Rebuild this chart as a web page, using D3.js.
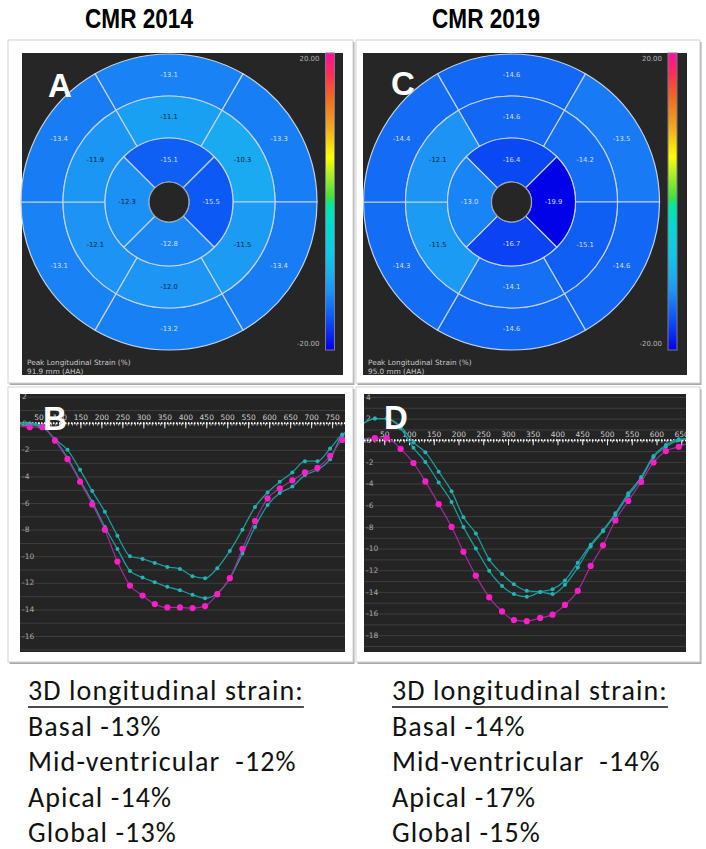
<!DOCTYPE html>
<html>
<head>
	<meta charset="utf-8">
	<script src="https://cdnjs.cloudflare.com/ajax/libs/d3/7.8.5/d3.min.js"></script>
	<style>
		body { margin: 0; background: #fff; }
		svg { display: block; }
	</style>
</head>
<body>
	<svg width="706" height="849"></svg>
	<script>
		// bullseye values, ring order: top, top-right, bottom-right, bottom, bottom-left, top-left
		// apical ring order: top, right, bottom, left
		const basal2014 = [-13.1, -13.3, -13.4, -13.2, -13.1, -13.4];
		const mid2014 = [-11.1, -10.3, -11.5, -12.0, -12.1, -11.9];
		const apical2014 = [-15.1, -15.5, -12.8, -12.3];
		const basal2019 = [-14.6, -13.5, -14.6, -14.6, -14.3, -14.4];
		const mid2019 = [-14.6, -14.2, -15.1, -14.1, -11.5, -12.1];
		const apical2019 = [-16.4, -19.9, -16.7, -13.0];

		// colour map of the strain scale (-20 .. 20)
		const colorValues = [-20, -18, -16, -14, -12, -10, -7, -3, -0.5, 0.5, 4, 6, 10, 14, 17, 20];
		const colorStops = ["#0000e6", "#0a28f2", "#0a50f5", "#1672f5", "#1c95f5", "#18aef0", "#10c8e8", "#00dcd0",
			"#00e8a0", "#40e040", "#b8f020", "#ffff00", "#f0a820", "#f06a20", "#ff3050", "#ff10a0"];

		// strain curves 2014 (time in ms, strain in %)
		const time2014 = [2, 28, 58, 88, 118, 148, 177, 207, 237, 267, 297, 326, 356, 386, 416, 446, 475, 505, 535, 565, 595, 624, 654, 684, 714, 744, 773, 785];
		const apicalCurve2014 = [-0.2, -0.3, -0.3, -1.3, -2.7, -4.4, -6.1, -8.0, -10.4, -12.2, -12.95, -13.6, -13.85, -13.85, -13.9, -13.75, -12.85, -11.65, -9.45, -7.35, -5.65, -4.9, -4.3, -3.7, -3.35, -2.45, -1.25, -0.9];
		const midCurve2014 = [0.0, 0.0, -0.2, -1.2, -2.0, -3.5, -5.1, -6.65, -8.45, -10.0, -10.2, -10.5, -10.8, -10.95, -11.5, -11.65, -10.9, -9.6, -8.0, -6.3, -5.2, -4.4, -3.7, -2.85, -2.85, -1.9, -0.85, -0.6];
		const basalCurve2014 = [0.0, -0.1, -0.3, -1.25, -2.6, -4.3, -5.9, -7.8, -9.45, -11.1, -11.6, -11.95, -12.3, -12.55, -12.9, -13.15, -12.8, -11.65, -9.8, -7.8, -6.15, -5.25, -4.75, -3.9, -3.5, -2.7, -0.9, -0.7];

		// strain curves 2019
		const time2019 = [5, 30, 54, 82, 108, 132, 159, 185, 209, 234, 261, 287, 311, 337, 364, 389, 414, 440, 466, 491, 516, 542, 568, 593, 618, 644, 660];
		const apicalCurve2019 = [0.15, 0.2, 0.2, -0.8, -2.1, -3.8, -5.9, -8.0, -10.3, -12.5, -14.5, -15.8, -16.6, -16.7, -16.4, -16.1, -15.2, -13.9, -11.6, -9.7, -7.4, -5.6, -3.85, -2.05, -1.0, -0.6, -0.3];
		const midCurve2019 = [1.5, 2.0, 2.0, 1.3, -0.2, -1.1, -2.9, -4.7, -7.1, -8.6, -11.0, -12.35, -13.3, -13.9, -14.0, -14.2, -13.35, -11.75, -9.8, -8.4, -6.9, -5.1, -3.55, -1.55, -0.6, 0.0, 0.1];
		const basalCurve2019 = [1.5, 2.0, 2.0, 1.1, -0.7, -2.0, -3.9, -5.7, -8.0, -10.0, -12.05, -13.45, -14.2, -14.45, -14.0, -13.75, -12.95, -11.3, -9.65, -8.3, -6.75, -4.9, -3.4, -1.45, -0.45, 0.1, 0.15];

		// tick labels
		const xTicks2014 = [50, 100, 150, 200, 250, 300, 350, 400, 450, 500, 550, 600, 650, 700, 750];
		const yTicks2014 = [2, 0, -2, -4, -6, -8, -10, -12, -14, -16];
		const xTicks2019 = [50, 100, 150, 200, 250, 300, 350, 400, 450, 500, 550, 600, 650];
		const yTicks2019 = [4, 2, 0, -2, -4, -6, -8, -10, -12, -14, -16, -18];

		// summary text
		const summaryLabels = ["Basal", "Mid-ventricular ", "Apical", "Global"];
		const summary2014 = [-13, -12, -14, -13];
		const summary2019 = [-14, -14, -17, -15];

		let svg = d3.select("svg");
		let color = d3.scaleLinear().domain(colorValues).range(colorStops).clamp(true);

		//panel frames with a little shadow
		let frames = [[8, 40, 345, 343], [356, 40, 344, 343], [8, 387, 345, 275], [356, 387, 344, 275]];
		svg.selectAll(".shadow").data(frames).enter().append("rect")
			.attr("x", d => d[0] + 1.5).attr("y", d => d[1] + 2)
			.attr("width", d => d[2]).attr("height", d => d[3])
			.attr("fill", "#a9a9a9");
		svg.selectAll(".frame").data(frames).enter().append("rect")
			.attr("x", d => d[0]).attr("y", d => d[1])
			.attr("width", d => d[2]).attr("height", d => d[3])
			.attr("fill", "#fff").attr("stroke", "#d2d2d2");

		//titles
		svg.selectAll(".title").data([["CMR 2014", 85], ["CMR 2019", 432]]).enter().append("text")
			.attr("x", d => d[1]).attr("y", 28)
			.attr("textLength", 108).attr("lengthAdjust", "spacingAndGlyphs")
			.style("font", "bold 27px 'Liberation Sans Narrow', 'Arial Narrow', 'Liberation Sans', Arial, sans-serif")
			.text(d => d[0]);

		//gradient for the colour bars (top = +20)
		let grad = svg.append("defs").append("linearGradient")
			.attr("id", "strainGrad").attr("x1", 0).attr("y1", 0).attr("x2", 0).attr("y2", 1);
		grad.selectAll("stop").data(colorValues.slice().reverse()).enter().append("stop")
			.attr("offset", d => (20 - d) / 40)
			.attr("stop-color", d => color(d));

		function letter(x, y, s) {
			svg.append("text").attr("x", x).attr("y", y)
				.style("font", "bold 33px 'Liberation Sans', Arial, sans-serif")
				.attr("fill", "#fff").text(s);
		}

		function bullseye(p) {
			let g = svg.append("g");
			g.append("rect").attr("x", p.left).attr("y", p.top)
				.attr("width", p.right - p.left).attr("height", p.bottom - p.top)
				.attr("fill", "#262626");

			let rings = [
				{values: p.basal, r0: 106, r1: 148, step: 60, off: -30},
				{values: p.mid, r0: 64, r1: 106, step: 60, off: -30},
				{values: p.apical, r0: 20, r1: 64, step: 90, off: -45}
			];
			let segs = [];
			rings.forEach(ring => ring.values.forEach((v, k) => {
				let a0 = (ring.off + ring.step * k) * Math.PI / 180;
				segs.push({value: v, innerRadius: ring.r0, outerRadius: ring.r1,
					startAngle: a0, endAngle: a0 + ring.step * Math.PI / 180});
			}));
			let arc = d3.arc();
			let bg = g.append("g").attr("transform", "translate(" + p.cx + "," + p.cy + ")");
			bg.selectAll("path").data(segs).enter().append("path")
				.attr("d", arc)
				.attr("fill", d => color(d.value))
				.attr("stroke", "#c4d2e4").attr("stroke-width", 1.2);
			bg.append("circle").attr("r", 20).attr("fill", "#262626")
				.attr("stroke", "#9aa4b0").attr("stroke-width", 1.2);
			bg.selectAll(".lab").data(segs).enter().append("text")
				.attr("transform", d => "translate(" + arc.centroid(d) + ")")
				.attr("text-anchor", "middle").attr("dy", "0.35em")
				.style("font", "6.8px 'DejaVu Sans', sans-serif")
				.attr("fill", d => d.value > -12.5 ? "#16283c" : "#d2dcec")
				.text(d => d.value.toFixed(1));

			//colour bar
			g.append("rect").attr("x", p.barX).attr("y", 53).attr("width", 9).attr("height", 297)
				.attr("fill", "url(#strainGrad)").attr("stroke", "#7a7a8a");
			g.selectAll(".barlab").data([[20, 61], [-20, 346]]).enter().append("text")
				.attr("x", p.barX - 6).attr("y", d => d[1])
				.attr("text-anchor", "end")
				.style("font", "7px 'DejaVu Sans', sans-serif")
				.attr("fill", "#b4b4b4")
				.text(d => d[0].toFixed(2));
			g.selectAll(".foot").data(["Peak Longitudinal Strain (%)", p.mm]).enter().append("text")
				.attr("x", p.left + 5).attr("y", (d, i) => 365 + i * 8.5)
				.style("font", "7.3px 'DejaVu Sans', sans-serif")
				.attr("fill", "#c8c8c8")
				.text(d => d);
			letter(p.lx, p.ly, p.letter);
		}

		function strain(p) {
			let x = d3.scaleLinear().domain(p.xDomain).range(p.xRange),
				y = d3.scaleLinear().domain(p.yDomain).range([p.top, p.bottom]);
			let g = svg.append("g");
			g.append("rect").attr("x", p.left).attr("y", p.top)
				.attr("width", p.right - p.left).attr("height", p.bottom - p.top)
				.attr("fill", "#242424");
			svg.append("clipPath").attr("id", "clip" + p.letter).append("rect")
				.attr("x", p.left).attr("y", p.top)
				.attr("width", p.right - p.left).attr("height", p.bottom - p.top);
			let inner = g.append("g").attr("clip-path", "url(#clip" + p.letter + ")");

			//grid line every unit
			let grid = d3.range(Math.ceil(p.yDomain[1]), Math.floor(p.yDomain[0]) + 1);
			inner.selectAll(".grid").data(grid).enter().append("line")
				.attr("x1", p.left).attr("x2", p.right)
				.attr("y1", d => y(d) + 0.5).attr("y2", d => y(d) + 0.5)
				.attr("stroke", "#3e3e3e");

			//y labels
			inner.selectAll(".ylab").data(p.yTicks).enter().append("text")
				.attr("x", p.left + 2).attr("y", d => y(d)).attr("dy", "0.35em")
				.style("font", "7.5px 'DejaVu Sans', sans-serif")
				.attr("fill", "#a8a8a8")
				.text(d => d);

			//dotted zero axis with ticks
			let y0 = y(0);
			inner.selectAll(".minor").data(d3.range(0, p.xDomain[1], 10)).enter().append("line")
				.attr("x1", d => x(d)).attr("x2", d => x(d))
				.attr("y1", y0).attr("y2", y0 + 2.5)
				.attr("stroke", "#d8d8d8").attr("stroke-width", 0.8);
			inner.selectAll(".major").data(p.xTicks).enter().append("line")
				.attr("x1", d => x(d)).attr("x2", d => x(d))
				.attr("y1", y0 - 1).attr("y2", y0 + 5)
				.attr("stroke", "#e8e8e8").attr("stroke-width", 1);
			inner.append("line")
				.attr("x1", p.left).attr("x2", p.right).attr("y1", y0).attr("y2", y0)
				.attr("stroke", "#fff").attr("stroke-width", 2)
				.attr("stroke-dasharray", "1.5,1.5");
			inner.selectAll(".xlab").data(p.xTicks).enter().append("text")
				.attr("x", d => x(d)).attr("y", y0 - 3)
				.attr("text-anchor", "middle")
				.style("font", "7.5px 'DejaVu Sans', sans-serif")
				.attr("fill", "#cccccc")
				.text(d => d);

			//curves
			let line = d3.line().x(d => x(d[0])).y(d => y(d[1])).curve(d3.curveMonotoneX);
			let series = [
				{values: p.basal, line: "#1d9a9c", dot: "#25b3b5", r: 2, w: 1.3},
				{values: p.mid, line: "#1d9a9c", dot: "#25b3b5", r: 2, w: 1.3},
				{values: p.apical, line: "#a02c9c", dot: "#ff1ec8", r: 3.1, w: 1.2}
			];
			series.forEach(s => {
				let pts = d3.zip(p.time, s.values);
				inner.append("path").datum(pts)
					.attr("d", line).attr("fill", "none")
					.attr("stroke", s.line).attr("stroke-width", s.w);
				inner.selectAll(null).data(pts.filter((d, i) => i > 0 && i < pts.length - 1)).enter()
					.append("circle")
					.attr("cx", d => x(d[0])).attr("cy", d => y(d[1]))
					.attr("r", s.r).attr("fill", s.dot);
			});
			letter(p.lx, p.ly, p.letter);
		}

		bullseye({letter: "A", left: 22, right: 343, top: 53, bottom: 375, cx: 169, cy: 202,
			barX: 325.5, lx: 48, ly: 97, mm: "91.9 mm (AHA)",
			basal: basal2014, mid: mid2014, apical: apical2014});
		bullseye({letter: "C", left: 363, right: 687, top: 53, bottom: 375, cx: 511.5, cy: 202,
			barX: 668, lx: 391, ly: 95, mm: "95.0 mm (AHA)",
			basal: basal2019, mid: mid2019, apical: apical2019});

		strain({letter: "B", left: 20, right: 345, top: 394, bottom: 652,
			xDomain: [0, 780], xRange: [18, 345.2], yDomain: [2.2, -17.2],
			xTicks: xTicks2014, yTicks: yTicks2014, lx: 43, ly: 430,
			time: time2014, apical: apicalCurve2014, mid: midCurve2014, basal: basalCurve2014});
		strain({letter: "D", left: 364, right: 686, top: 394, bottom: 652,
			xDomain: [0, 658], xRange: [360, 685.7], yDomain: [4.27, -19.55],
			xTicks: xTicks2019, yTicks: yTicks2019, lx: 384, ly: 429,
			time: time2019, apical: apicalCurve2019, mid: midCurve2019, basal: basalCurve2019});

		//summary below the panels
		let cols = [[28, summary2014], [392, summary2019]];
		cols.forEach(c => {
			let lines = ["3D longitudinal strain:"].concat(summaryLabels.map((l, i) => l + " " + c[1][i] + "%"));
			let t = svg.append("g").selectAll("text").data(lines).enter().append("text")
				.attr("x", c[0]).attr("y", (d, i) => 700 + i * 35.5)
				.style("font", "28px Carlito, Calibri, Lato, sans-serif")
				.style("letter-spacing", "1.1px")
				.style("white-space", "pre")
				.attr("fill", "#111")
				.text(d => d);
			let w = t.node().getComputedTextLength();
			svg.append("line").attr("x1", c[0]).attr("x2", c[0] + w)
				.attr("y1", 707).attr("y2", 707)
				.attr("stroke", "#111").attr("stroke-width", 1.6);
		});
	</script>
</body>
</html>
